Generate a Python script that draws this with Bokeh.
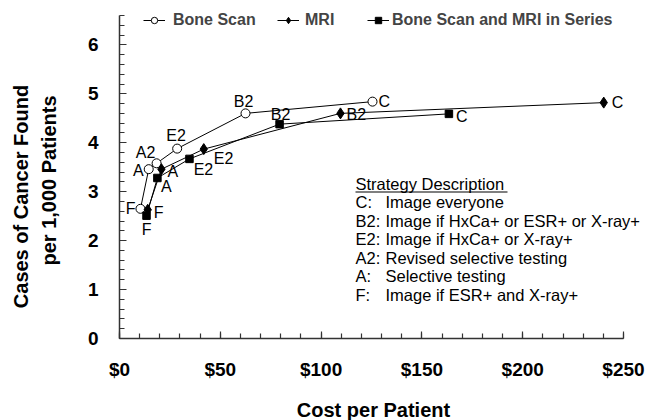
from bokeh.plotting import figure
from bokeh.models import (ColumnDataSource, Legend, LegendItem, Label, BoxAnnotation,
                          NumeralTickFormatter, FixedTicker, Range1d)
from bokeh.core.properties import value
from bokeh.embed import file_html
from bokeh.resources import INLINE
import math

# Cost per patient ($) and cases of cancer found per 1,000 patients
bone_labels = ["F", "A", "A2", "E2", "B2", "C"]
bone_cost = [10.4, 14.5, 18.4, 28.6, 62.5, 125.5]
bone_cases = [2.65, 3.46, 3.58, 3.88, 4.60, 4.84]

mri_labels = ["F", "A", "E2", "B2", "C"]
mri_cost = [14.0, 20.8, 41.8, 109.6, 240.2]
mri_cases = [2.63, 3.46, 3.87, 4.60, 4.82]

series_labels = ["F", "A", "E2", "B2", "C"]
series_cost = [13.4, 18.8, 34.7, 79.4, 163.4]
series_cases = [2.51, 3.28, 3.67, 4.38, 4.59]

strategy_codes = ["C:", "B2:", "E2:", "A2:", "A:", "F:"]
strategy_text = ["Image everyone", "Image if HxCa+ or ESR+ or X-ray+",
                 "Image if HxCa+ or X-ray+", "Revised selective testing",
                 "Selective testing", "Image if ESR+ and X-ray+"]

y_ticks = [0, 1, 2, 3, 4, 5, 6]
x_ticks = [0, 50, 100, 150, 200, 250]
X_MAX = 250
Y_MAX = 6.6

FONT = "Liberation Sans"
W, H = 647, 420
# plot area inside the canvas (pixels)
AX_LEFT, AX_RIGHT, AX_TOP, AX_BOTTOM = 119, 623, 15, 338

# point-label placement (align, dx, dy in pixels; dy positive = up)
bone_pos = [("right", -5, 0), ("right", -5, -1), ("center", -11, 11),
            ("center", -1, 13), ("center", -2, 12), ("left", 6, 0)]
mri_pos = [("left", 6, -3), ("left", 6, -2), ("left", 10, -9),
           ("left", 6, -1), ("left", 8, 0)]
series_pos = [("center", 0, -14), ("center", 9, -9), ("center", 14, -11),
              ("center", 1, 10), ("left", 7, -3)]

# ranges extended so the data area sits inside the full canvas
xs = X_MAX / (AX_RIGHT - AX_LEFT)
ys = Y_MAX / (AX_BOTTOM - AX_TOP)
x_range = Range1d(-AX_LEFT * xs, (W - AX_LEFT) * xs)
y_range = Range1d(-(H - AX_BOTTOM) * ys, AX_BOTTOM * ys)

p = figure(width=W, height=H, output_backend="svg", toolbar_location=None,
           x_range=x_range, y_range=y_range,
           min_border_left=0, min_border_right=0, min_border_top=0,
           min_border_bottom=0)
p.outline_line_color = None
p.xgrid.visible = False
p.ygrid.visible = False
p.background_fill_color = "white"
p.border_fill_color = "white"

p.xaxis.fixed_location = 0
p.yaxis.fixed_location = 0
p.xaxis.bounds = (0, X_MAX)
p.yaxis.bounds = (0, Y_MAX)

for ax in (p.xaxis[0], p.yaxis[0]):
    ax.axis_line_color = "#333333"
    ax.axis_line_width = 1.5
    ax.major_tick_line_color = "#333333"
    ax.minor_tick_line_color = "#333333"
    ax.major_tick_line_width = 1.2
    ax.minor_tick_line_width = 1.2
    ax.major_tick_in = 7
    ax.major_tick_out = 0
    ax.minor_tick_in = 5
    ax.minor_tick_out = 0
    ax.major_label_text_font = FONT
    ax.major_label_text_font_style = "bold"
    ax.major_label_text_font_size = "19px"
    ax.major_label_text_color = "black"

p.xaxis.ticker = FixedTicker(ticks=x_ticks, minor_ticks=list(range(0, 251, 10)))
p.yaxis.ticker = FixedTicker(ticks=y_ticks,
                             minor_ticks=[i / 5 for i in range(0, 34)])
p.xaxis.formatter = NumeralTickFormatter(format="$0")
p.xaxis.major_label_standoff = 20
p.yaxis.major_label_standoff = 21


def draw(cost, cases, labels, pos, marker, size, fill):
    src = ColumnDataSource(dict(x=cost, y=cases))
    ln = p.line("x", "y", source=src, line_color="black", line_width=1)
    sc = p.scatter("x", "y", source=src, marker=marker, size=size,
                   fill_color=fill, line_color="black", line_width=1)
    for align in ("left", "center", "right"):
        idx = [i for i, q in enumerate(pos) if q[0] == align]
        if not idx:
            continue
        lsrc = ColumnDataSource(dict(
            x=[cost[i] for i in idx], y=[cases[i] for i in idx],
            t=[labels[i] for i in idx],
            dx=[pos[i][1] for i in idx], dy=[-pos[i][2] for i in idx]))
        p.text("x", "y", text="t", source=lsrc, x_offset="dx", y_offset="dy",
               text_align=align, text_baseline="middle",
               text_font=value(FONT), text_font_size="16px", text_color="black")
    return [ln, sc]


r_bone = draw(bone_cost, bone_cases, bone_labels, bone_pos, "circle", 9, "white")
r_mri = draw(mri_cost, mri_cases, mri_labels, mri_pos, "diamond", 11, "black")
r_ser = draw(series_cost, series_cases, series_labels, series_pos, "square", 7.5,
             "black")

for name, rends, lx, standoff in (("Bone Scan", r_bone, 143, 8),
                                  ("MRI", r_mri, 277, 6),
                                  ("Bone Scan and MRI in Series", r_ser, 367, 3)):
    leg = Legend(items=[LegendItem(label=name, renderers=rends)],
                 location=(lx, H - 29), orientation="horizontal",
                 padding=0, margin=0, spacing=0, border_line_color=None,
                 background_fill_alpha=0, glyph_width=22, glyph_height=16,
                 label_height=16, label_standoff=standoff,
                 label_text_font=FONT, label_text_font_style="bold",
                 label_text_font_size="16px", label_text_baseline="middle")
    p.add_layout(leg)


def screen_label(x, y, text, size, bold=False, angle=0.0, align="left"):
    """Text placed in canvas pixels (x from left, y from top)."""
    p.add_layout(Label(x=x, y=H - y, x_units="screen", y_units="screen",
                       text=text, angle=angle, text_align=align,
                       text_baseline="middle", text_font=FONT,
                       text_font_style="bold" if bold else "normal",
                       text_font_size=size, text_color="black"))


# axis titles
screen_label(20, 196, "Cases of Cancer Found", "20px", True, math.pi / 2, "center")
screen_label(48, 180, "per 1,000 Patients", "20px", True, math.pi / 2, "center")
screen_label(373, 409, "Cost per Patient", "20px", True, 0.0, "center")

# strategy key
key_left, key_top, row_h = 355, 183, 18.5
screen_label(key_left, key_top, "Strategy Description", "16.5px")
p.add_layout(BoxAnnotation(left=key_left, right=key_left + 152,
                           bottom=H - key_top - 9, top=H - key_top - 8,
                           left_units="screen", right_units="screen",
                           bottom_units="screen", top_units="screen",
                           fill_color="black", fill_alpha=1, line_color=None))
for i, (code, txt) in enumerate(zip(strategy_codes, strategy_text)):
    yy = key_top + row_h * (i + 1)
    screen_label(key_left, yy, code, "16.5px")
    screen_label(key_left + 30, yy, txt, "16.5px")

open("out.html", "w").write(file_html(p, INLINE))
